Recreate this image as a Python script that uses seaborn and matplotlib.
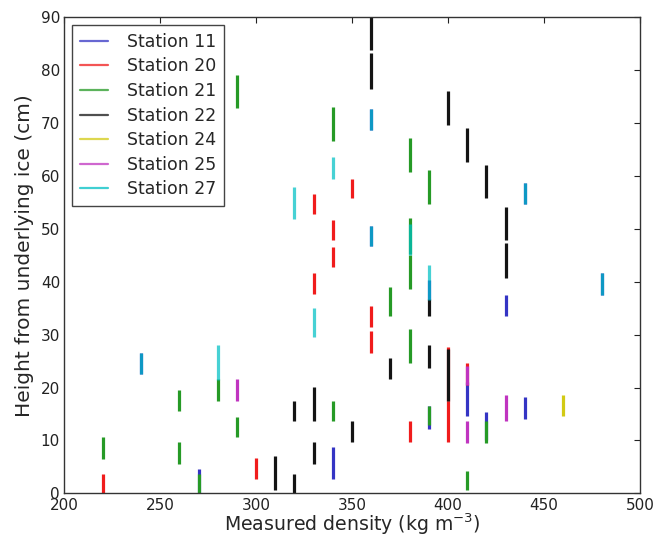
import matplotlib
matplotlib.use("Agg")
import matplotlib.pyplot as plt
from matplotlib.lines import Line2D
import seaborn as sns
import pandas as pd

# Snow density samples: each sample spans a height interval at one density
station = (
    ["Station 11"] * 13
    + ["Station 20"] * 13
    + ["Station 21"] * 18
    + ["Station 22"] * 17
    + ["Station 24"] * 1
    + ["Station 25"] * 4
    + ["Station 27"] * 11
)
density = [
    # Station 11
    270, 340, 390, 410, 420, 430, 440, 240, 360, 360, 440, 480, 390,
    # Station 20
    220, 300, 330, 330, 340, 340, 350, 360, 360, 380, 400, 400, 410,
    # Station 21
    220, 260, 260, 270, 280, 290, 290, 340, 340, 370, 380, 380, 380, 380,
    390, 390, 410, 420,
    # Station 22
    310, 320, 320, 330, 330, 350, 360, 360, 370, 390, 390, 400, 400, 410,
    420, 430, 430,
    # Station 24
    460,
    # Station 25
    290, 410, 410, 430,
    # Station 27
    240, 280, 320, 330, 340, 360, 360, 380, 390, 440, 480,
]
h_low = [
    0.0, 2.7, 12.1, 14.6, 10.0, 33.5, 14.1, 22.6, 68.7, 46.7, 54.7, 37.5, 36.6,
    0.0, 2.7, 37.7, 52.8, 47.8, 42.7, 55.8, 31.5, 26.6, 9.7, 9.7, 17.5, 20.5,
    6.5, 5.6, 15.5, 0.0, 17.5, 10.6, 72.8, 13.6, 66.6, 33.5, 24.6, 38.6, 45.2,
    60.7, 12.9, 54.7, 0.7, 9.6,
    0.7, 0.0, 13.6, 5.6, 13.6, 9.7, 76.5, 83.8, 21.6, 23.6, 33.5, 17.5, 69.7,
    62.7, 55.8, 47.9, 40.8,
    14.6,
    17.5, 9.6, 20.5, 13.6,
    22.6, 21.4, 51.8, 29.6, 59.5, 68.7, 46.7, 45.0, 36.6, 54.7, 37.5,
]
h_high = [
    4.6, 8.7, 16.5, 21.0, 15.3, 37.5, 18.2, 26.6, 72.6, 50.5, 58.7, 41.6, 40.4,
    3.6, 6.6, 41.7, 56.6, 51.7, 46.6, 59.5, 35.4, 30.6, 13.6, 17.5, 27.6, 24.6,
    10.6, 9.7, 19.5, 3.7, 21.6, 14.5, 79.0, 17.5, 73.1, 39.0, 31.0, 45.0, 52.0,
    67.1, 16.6, 61.1, 4.3, 13.6,
    7.1, 3.6, 17.5, 9.7, 20.1, 13.6, 83.2, 92.0, 25.5, 28.0, 36.8, 27.3, 76.1,
    69.1, 62.0, 54.1, 47.3,
    18.6,
    21.6, 13.6, 24.0, 18.6,
    26.6, 28.0, 58.0, 35.0, 63.6, 72.6, 50.5, 51.0, 43.2, 58.7, 41.6,
]
station_names = ["Station 11", "Station 20", "Station 21", "Station 22",
                 "Station 24", "Station 25", "Station 27"]
station_colors = ["#3434c4", "#f01c1c", "#269a26", "#141414",
                  "#d2ca14", "#c034c0", "#00c0c4"]

# Long-form table: two rows (bottom and top) per sample segment
rows = []
for i, (s, d, lo, hi) in enumerate(zip(station, density, h_low, h_high)):
    rows.append({"station": s, "density": d, "height": lo, "segment": i})
    rows.append({"station": s, "density": d, "height": hi, "segment": i})
df = pd.DataFrame(rows)

sns.set_style("white")
plt.rcParams.update({
    "font.family": ["DejaVu Sans"],
    "xtick.direction": "in",
    "ytick.direction": "in",
    "xtick.top": True,
    "ytick.right": True,
    "xtick.major.size": 4,
    "ytick.major.size": 4,
    "xtick.color": "#222222",
    "ytick.color": "#222222",
    "axes.edgecolor": "#333333",
    "axes.linewidth": 1.0,
})

fig = plt.figure(figsize=(6.55, 5.38), dpi=100)
ax = fig.add_axes([0.098, 0.083, 0.879, 0.885])

palette = dict(zip(station_names, station_colors))
main = df[df["station"] != "Station 27"]
last = df[df["station"] == "Station 27"]

sns.lineplot(data=main, x="density", y="height", hue="station",
             hue_order=station_names[:-1], palette=palette, units="segment",
             estimator=None, sort=False, lw=2.3, legend=False, ax=ax,
             solid_capstyle="butt")
sns.lineplot(data=last, x="density", y="height", hue="station",
             palette=palette, units="segment", estimator=None, sort=False,
             lw=2.3, alpha=0.72, legend=False, ax=ax, solid_capstyle="butt")

ax.set_xlim(200, 500)
ax.set_ylim(0, 90)
ax.set_xticks(range(200, 501, 50))
ax.set_yticks(range(0, 91, 10))
ax.tick_params(labelsize=11, pad=3)
ax.set_xlabel("Measured density (kg m$^{-3}$)", fontsize=13.6, labelpad=-1)
ax.set_ylabel("Height from underlying ice (cm)", fontsize=14.5, labelpad=5)

handles = [Line2D([], [], color=c, lw=1.6, alpha=0.75) for c in station_colors]
leg = ax.legend(handles, station_names, loc="upper left", fontsize=12.5,
                labelspacing=0.38, handlelength=1.6, handletextpad=1.1,
                borderpad=0.45, borderaxespad=0.45, fancybox=False,
                framealpha=1, edgecolor="#444444")
leg.get_frame().set_linewidth(1.0)

fig.savefig("out.png", dpi=100)
